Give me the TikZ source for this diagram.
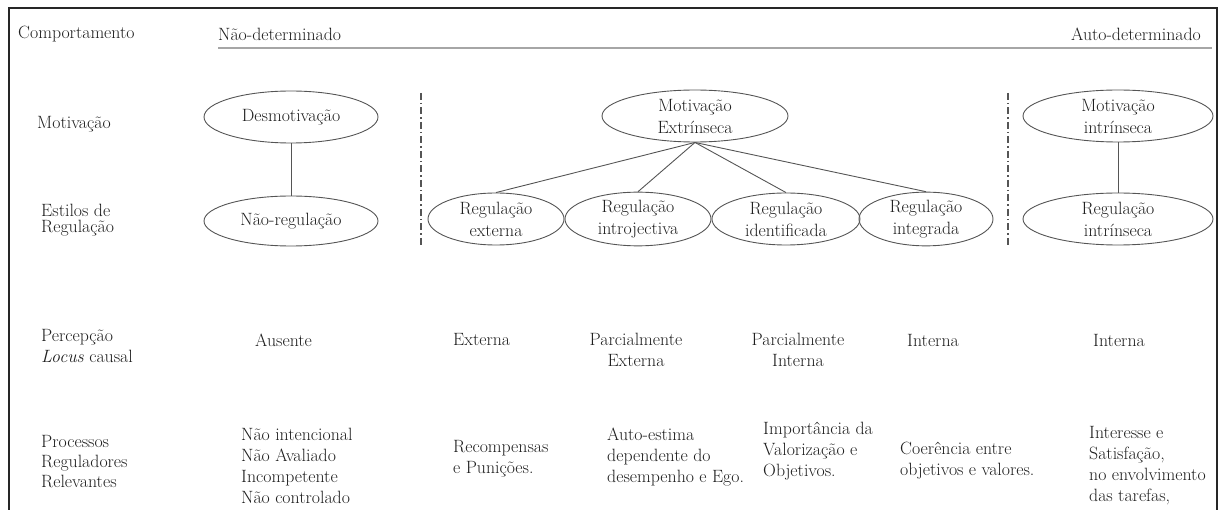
\documentclass[tikz,border=0pt]{standalone}
\usetikzlibrary{shapes.geometric}
\definecolor{ln}{HTML}{555555}
\definecolor{txt}{HTML}{1E1E1E}
\tikzset{
  lbl/.style={inner sep=0pt, text=txt, align=left, font=\fontsize{17.8}{21}\selectfont},
  ctr/.style={inner sep=0pt, text=txt, align=center, font=\fontsize{17.8}{21}\selectfont},
  ell/.style={ellipse, draw=ln, line width=0.9pt, inner sep=0pt, minimum height=52pt, align=center, text=txt, font=\fontsize{17.8}{22}\selectfont},
  link/.style={draw=ln, line width=0.9pt},
  sep/.style={draw=ln, line width=1.6pt, dash pattern=on 7pt off 3pt on 1.5pt off 3pt},
  frame/.style={draw=black!85, line width=2pt}
}
\begin{document}
\begin{tikzpicture}[x=1pt,y=-1pt]
\useasboundingbox (0,0) rectangle (1221,510);
% frame
\draw[frame] (9,515) -- (9,8) -- (1217,8) -- (1217,515);
% top gray rule
\coordinate (r1) at (218,48);
\coordinate (r2) at (1212,48);
\draw[draw=gray!70, line width=1.6pt] (r1) -- (r2);
% header texts
\node[lbl, anchor=west] (comp) at (18,34) {Comportamento};
\node[lbl, anchor=west] (nd) at (218,34) {Não-determinado};
\node[lbl, anchor=east] (ad) at (1201,34) {Auto-determinado};
% row labels
\node[lbl, anchor=west] (lmot) at (37,124) {Motivação};
\node[lbl, anchor=west, font=\fontsize{17.8}{16.5}\selectfont] (lest) at (41,220) {Estilos de\\Regulação};
\node[lbl, anchor=west] (lper) at (41,346) {Percepção\\\textit{Locus} causal};
\node[lbl, anchor=west, font=\fontsize{17.8}{20}\selectfont] (lpro) at (41,462) {Processos\\Reguladores\\Relevantes};
% ellipses
\node[ell, minimum width=174pt] (des) at (291,117) {Desmotivação};
\node[ell, minimum width=174pt, minimum height=50pt] (nreg) at (291,221) {Não-regulação};
\node[ell, minimum width=186pt] (me) at (695,116) {Motivação\\Extrínseca};
\node[ell, minimum width=136pt] (rext) at (496,219) {Regulação\\externa};
\node[ell, minimum width=146pt] (rint) at (638,219) {Regulação\\introjectiva};
\node[ell, minimum width=148pt] (rid) at (786,219) {Regulação\\identificada};
\node[ell, minimum width=134pt] (rig) at (926,219) {Regulação\\integrada};
\node[ell, minimum width=190pt] (mi) at (1118,116) {Motivação\\intrínseca};
\node[ell, minimum width=190pt] (ri) at (1118,219) {Regulação\\intrínseca};
% connectors
\draw[link] (des) -- (nreg);
\draw[link] (me.south) -- (rext.north);
\draw[link] (me.south) -- (rint.north);
\draw[link] (me.south) -- (rid.north);
\draw[link] (me.south) -- (rig.north);
\draw[link] (mi) -- (ri);
% separators
\coordinate (s1a) at (421,93);
\coordinate (s1b) at (421,247);
\coordinate (s2a) at (1008,93);
\coordinate (s2b) at (1008,246);
\draw[sep] (s1a) -- (s1b);
\draw[sep] (s2a) -- (s2b);
% perception row
\node[lbl, anchor=west] (p1) at (255,340) {Ausente};
\node[lbl, anchor=west] (p2) at (453,340) {Externa};
\node[ctr] (p3) at (636,350) {Parcialmente\\Externa};
\node[ctr] (p4) at (798,350) {Parcialmente\\Interna};
\node[lbl, anchor=west] (p5) at (907,340) {Interna};
\node[lbl, anchor=west] (p6) at (1093,340) {Interna};
% processes row
\node[lbl, anchor=west] (q1) at (241,465.5) {Não intencional\\Não Avaliado\\Incompetente\\Não controlado};
\node[lbl, anchor=west] (q2) at (453,459) {Recompensas\\e Punições.};
\node[lbl, anchor=west] (q3) at (607,457) {Auto-estima\\dependente do\\desempenho e Ego.};
\node[lbl, anchor=west] (q4) at (763,451) {Importância da\\Valorização e\\Objetivos.};
\node[lbl, anchor=west] (q5) at (900,460.5) {Coerência entre\\objetivos e valores.};
\node[lbl, anchor=west] (q6) at (1089,465.5) {Interesse e\\Satisfação,\\no envolvimento\\das tarefas,};
\end{tikzpicture}
\end{document}
